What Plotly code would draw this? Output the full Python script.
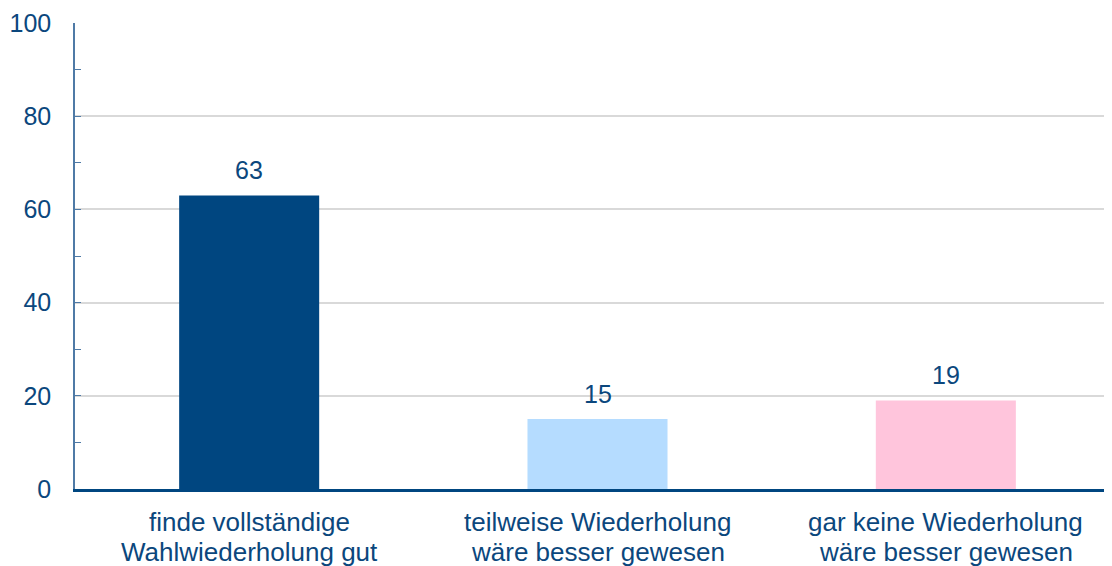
import plotly.graph_objects as go

categories = [
    "finde vollständige Wahlwiederholung gut",
    "teilweise Wiederholung wäre besser gewesen",
    "gar keine Wiederholung wäre besser gewesen",
]
label_lines = [
    ["finde vollständige", "Wahlwiederholung gut"],
    ["teilweise Wiederholung", "wäre besser gewesen"],
    ["gar keine Wiederholung", "wäre besser gewesen"],
]
values = [63, 15, 19]
colors = ["#004680", "#b5dcff", "#ffc5dc"]
y_ticks = [0, 20, 40, 60, 80, 100]

text_color = "#0b477d"
font_family = "Liberation Sans, Arial, sans-serif"

fig = go.Figure()
fig.add_trace(
    go.Bar(
        x=categories,
        y=values,
        marker=dict(color=colors, line=dict(width=0)),
        width=0.402,
        hoverinfo="skip",
    )
)

# Werte über den Balken
for cat, val in zip(categories, values):
    fig.add_annotation(
        x=cat,
        y=val,
        text=str(val),
        showarrow=False,
        yanchor="bottom",
        yshift=9,
        font=dict(size=25, color=text_color, family=font_family),
    )

# Kategorienbeschriftung, zweizeilig mit engerem Zeilenabstand
for cat, lines in zip(categories, label_lines):
    for i, line in enumerate(lines):
        fig.add_annotation(
            x=cat,
            y=0,
            xref="x",
            yref="paper",
            text=line,
            showarrow=False,
            yanchor="middle",
            yshift=-33 - 30 * i,
            font=dict(size=26, color=text_color, family=font_family),
        )

# Seite hat 8px Rand
fig.update_layout(
    width=1112,
    height=558,
    margin=dict(l=67, r=0, t=15, b=77),
    paper_bgcolor="white",
    plot_bgcolor="white",
    showlegend=False,
    font=dict(family=font_family, size=25, color=text_color),
)

fig.update_xaxes(
    showline=True,
    linecolor="#004680",
    linewidth=3,
    showgrid=False,
    ticks="",
    showticklabels=False,
)

fig.update_yaxes(
    range=[0, 100],
    tickvals=y_ticks,
    showline=True,
    linecolor="#4f7aa6",
    linewidth=1.5,
    showgrid=True,
    gridcolor="#d9d9d9",
    gridwidth=2,
    ticks="inside",
    ticklen=6,
    tickcolor="#4f7aa6",
    minor=dict(dtick=10, ticks="inside", ticklen=6, tickcolor="#4f7aa6", showgrid=False),
    tickfont=dict(size=25, color=text_color),
    ticklabelstandoff=17,
    zeroline=False,
)

fig.write_html("out.html")
